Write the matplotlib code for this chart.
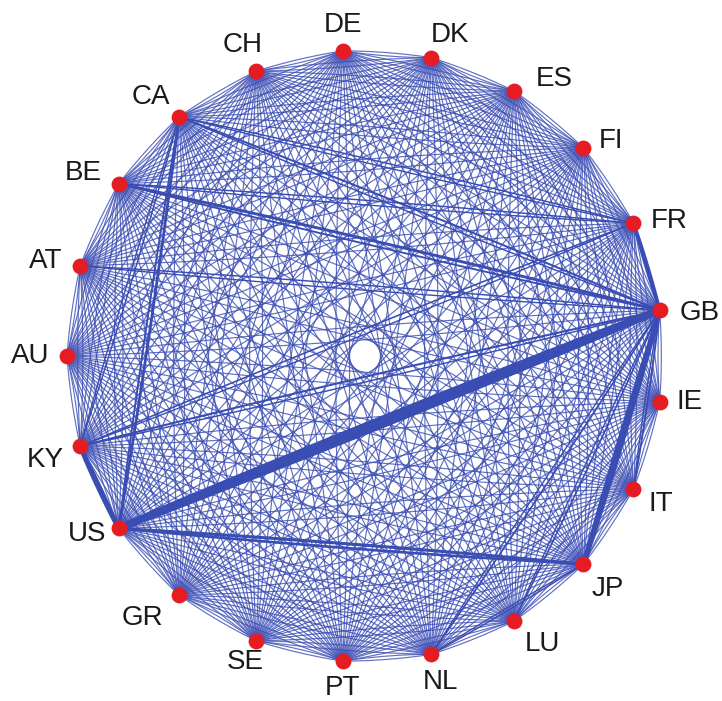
import numpy as np
import matplotlib
matplotlib.use("Agg")
import matplotlib.pyplot as plt
from matplotlib.collections import LineCollection

plt.rcParams['font.family'] = ['Liberation Sans', 'DejaVu Sans']

# nodes, clockwise on screen starting from AU (left)
NODES = ['AU', 'AT', 'BE', 'CA', 'CH', 'DE', 'DK', 'ES', 'FI', 'FR', 'GB',
         'IE', 'IT', 'JP', 'LU', 'NL', 'PT', 'SE', 'GR', 'US', 'KY']

# heavier links: (from, to, weight from->to, weight to->from)
STRONG = [
    ('US', 'GB', 5.2, 4.6),
    ('GB', 'JP', 3.6, 2.4),
    ('US', 'KY', 3.4, 1.8),
    ('FR', 'GB', 2.4, 1.5),
    ('US', 'JP', 2.1, 1.8),
    ('BE', 'GB', 2.0, 1.3),
    ('CA', 'US', 1.9, 1.3),
    ('CA', 'GB', 1.4, 1.0),
    ('KY', 'GB', 1.4, 1.0),
    ('KY', 'FR', 1.1, 0.95),
    ('AT', 'GB', 1.0, 0.95),
    ('GB', 'NL', 1.2, 0.95),
    ('GB', 'LU', 1.1, 0.95),
    ('GB', 'IT', 1.3, 0.95),
    ('JP', 'NL', 1.0, 0.95),
    ('BE', 'FR', 1.0, 0.95),
    ('CA', 'FR', 1.0, 0.95),
    ('CA', 'KY', 1.0, 0.95),
]
BASE_WEIGHT = 0.85

# label offsets in pixels (dx, dy up)
LABEL_OFFSETS = {
    'AU': (-37, 0), 'AT': (-35, 5), 'BE': (-36, 11), 'CA': (-28, 20),
    'CH': (-14, 26), 'DE': (0, 26), 'DK': (19, 23), 'ES': (40, 12),
    'FI': (28, 7), 'FR': (36, 2), 'GB': (40, -3), 'IE': (30, 0),
    'IT': (27, -15), 'JP': (24, -25), 'LU': (28, -23), 'NL': (9, -28),
    'PT': (0, -27), 'SE': (-11, -21), 'GR': (-37, -23), 'US': (-32, -6),
    'KY': (-35, -14),
}

RX, RY = 298.0, 306.0
EDGE_COLOR = '#3a4db3'
NODE_COLOR = '#e51d22'

n = len(NODES)
ang = np.deg2rad(180.0 - 360.0 / n * np.arange(n))
pos = {name: np.array([RX * np.cos(a), RY * np.sin(a)]) for name, a in zip(NODES, ang)}

weights = {}
for i in range(n):
    for j in range(n):
        if i != j:
            weights[(NODES[i], NODES[j])] = BASE_WEIGHT
for a, b, wab, wba in STRONG:
    weights[(a, b)] = wab
    weights[(b, a)] = wba


def arc(p, q, k, steps=30):
    # slightly bent edge, so a->b and b->a sit side by side
    d = q - p
    L = np.hypot(*d)
    nrm = np.array([-d[1], d[0]]) / L
    c = (p + q) / 2 + nrm * (k * L + 1.5)
    t = np.linspace(0, 1, steps)[:, None]
    return (1 - t) ** 2 * p + 2 * (1 - t) * t * c + t ** 2 * q


fig = plt.figure(figsize=(7.22, 7.01), dpi=100)
ax = fig.add_axes([0, 0, 1, 1])
ax.set_xlim(-365, 357)
ax.set_ylim(-345, 356)
ax.axis('off')

thin_segs, thick_segs, thick_w = [], [], []
for (a, b), w in weights.items():
    if w > BASE_WEIGHT:
        thick_segs.append(arc(pos[a], pos[b], 0.006))
        thick_w.append(w * 1.05)
    else:
        thin_segs.append(arc(pos[a], pos[b], 0.02))

ax.add_collection(LineCollection(thin_segs, linewidths=BASE_WEIGHT, colors=EDGE_COLOR,
                                 alpha=0.8, zorder=1))
order = np.argsort(thick_w)
ax.add_collection(LineCollection([thick_segs[k] for k in order],
                                 linewidths=[thick_w[k] for k in order],
                                 colors=EDGE_COLOR, zorder=2, capstyle='round'))

xy = np.array([pos[k] for k in NODES])
ax.scatter(xy[:, 0], xy[:, 1], s=130, color=NODE_COLOR, zorder=3, linewidths=0)

for name in NODES:
    dx, dy = LABEL_OFFSETS[name]
    ax.text(pos[name][0] + dx, pos[name][1] + dy, name, fontsize=20,
            ha='center', va='center', color='#1a1a1a', zorder=4)

fig.savefig('out.png', dpi=100)
